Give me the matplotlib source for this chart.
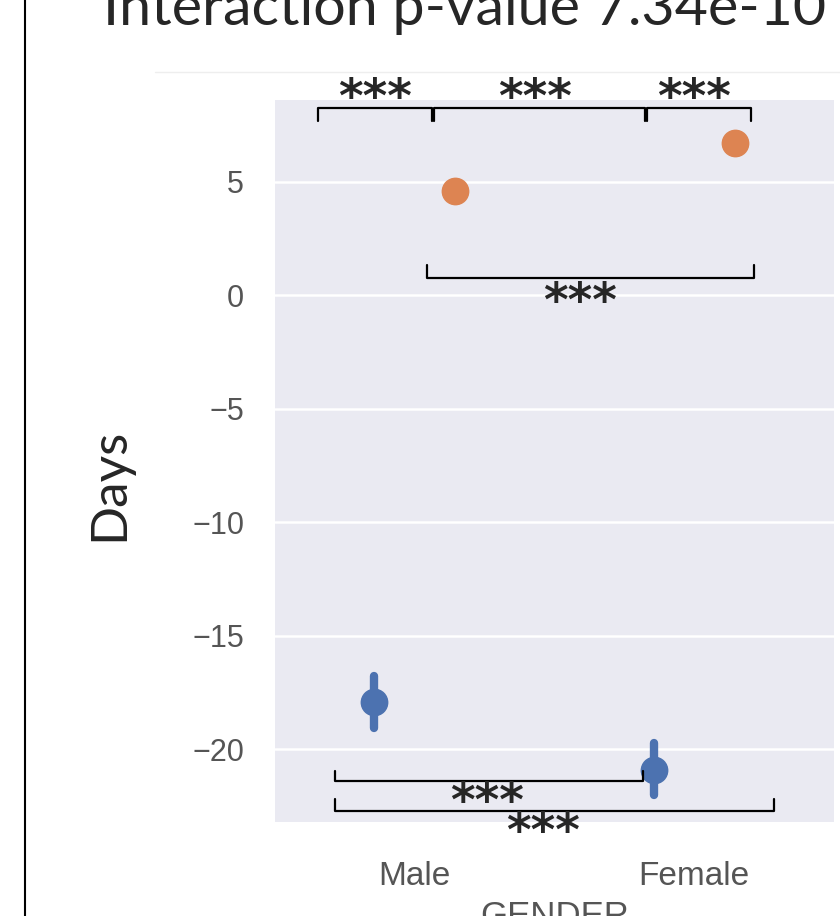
import matplotlib
matplotlib.use("Agg")
import matplotlib.pyplot as plt
import seaborn as sns

# data
genders = ["Male", "Female"]
blue_mean = [-17.9, -20.9]
blue_low = [-19.05, -22.0]
blue_high = [-16.75, -19.7]
orange_mean = [4.6, 6.7]
orange_low = [4.3, 6.4]
orange_high = [4.9, 7.0]
yticks = [5, 0, -5, -10, -15, -20]

# significance brackets: (x0, x1, y_line, y_tip, text_x, text_y)
brackets = [
    (-0.346, 0.063, 8.23, 7.66, -0.142, 8.62),
    (0.070, 0.823, 8.23, 7.66, 0.43, 8.62),
    (0.830, 1.203, 8.23, 7.66, 1.0, 8.62),
    (0.045, 1.213, 0.75, 1.32, 0.59, -0.35),
    (-0.285, 0.815, -21.39, -20.95, 0.26, -22.4),
    (-0.285, 1.285, -22.71, -22.18, 0.46, -23.7),
]

sns.set_style("darkgrid")

fig = plt.figure(figsize=(8.4, 9.16), dpi=100)
ax = fig.add_axes([0.327, 0.1026, 0.666, 0.788])

blue = "#4C72B0"
orange = "#DD8452"
dodge = 0.145
xs = range(len(genders))
for i, g in enumerate(genders):
    ax.plot([i - dodge, i - dodge], [blue_low[i], blue_high[i]], color=blue, lw=6, solid_capstyle="round", zorder=3)
    ax.plot(i - dodge, blue_mean[i], "o", color=blue, ms=19, zorder=4)
    ax.plot([i + dodge, i + dodge], [orange_low[i], orange_high[i]], color=orange, lw=6, zorder=3)
    ax.plot(i + dodge, orange_mean[i], "o", color=orange, ms=19, zorder=4)

ax.set_xlim(-0.5, 1.5)
ax.set_ylim(-23.2, 8.58)
ax.set_xticks(list(xs))
ax.set_xticklabels(genders)
ax.set_yticks(yticks)
ax.set_yticklabels([str(t).replace("-", "\u2212") for t in yticks])
ax.grid(axis="x", visible=False)
ax.grid(axis="y", color="white", lw=1.8)
for s in ax.spines.values():
    s.set_visible(False)
ax.tick_params(axis="y", labelsize=22, labelcolor="#555555", pad=22, length=0)
ax.tick_params(axis="x", labelsize=24, labelcolor="#555555", pad=28, length=0)
for lab in ax.get_xticklabels() + ax.get_yticklabels():
    lab.set_family("Liberation Sans")
ax.set_xlabel("GENDER", fontsize=25, color="#555555", family="Liberation Sans", labelpad=6)

for x0, x1, yl, yt, tx, ty in brackets:
    ax.plot([x0, x0, x1, x1], [yt, yl, yl, yt], color="black", lw=1.6, clip_on=False, zorder=5)
    ax.text(tx, ty, "***", ha="center", va="center", fontsize=34, fontweight="bold",
            family="DejaVu Sans", clip_on=False, zorder=6)

fig.text(0.13, 1 - 484 / 916, "Days", rotation=90, ha="center", va="center",
         fontsize=37, family="Lato")
fig.text(0.123, 1 - 25 / 916, "Interaction p-value 7.34e-10", ha="left", va="baseline",
         fontsize=41.3, family="Lato")

fig.add_artist(plt.Line2D([25 / 840, 25 / 840], [0, 1], color="black", lw=1.5))
fig.add_artist(plt.Line2D([155 / 840, 1], [1 - 72 / 916, 1 - 72 / 916], color="#eeeeee", lw=1))

fig.savefig("out.png", dpi=100)
